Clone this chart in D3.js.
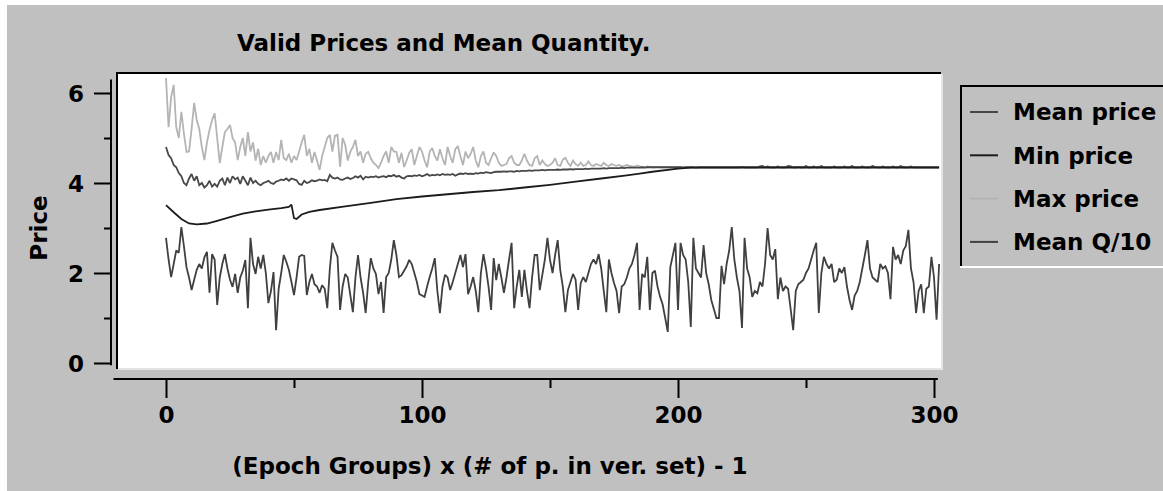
<!DOCTYPE html>
<html>
<head>
<meta charset="utf-8">
<script src="https://cdn.jsdelivr.net/npm/d3@7"></script>
<style>
  body { margin: 0; background: #fff; }
  text { font-family: "DejaVu Sans", "Liberation Sans", Arial, sans-serif; font-weight: bold; fill: #000; }
</style>
</head>
<body>
<div id="chart"></div>
<script>
// values, one per epoch group (x = index)
const meanQ = [
  2.78, 2.3, 1.91, 2.2, 2.5, 2.45, 3.02, 2.6, 2.13, 1.9,
  1.62, 1.85, 2.07, 2.2, 2.1, 2.35, 2.47, 1.56, 2.42, 2.3,
  1.29, 1.9, 2.2, 2.42, 2.1, 1.85, 1.69, 1.98, 1.56, 1.9,
  2.05, 2.29, 1.22, 2.78, 2.2, 1.98, 2.36, 2.1, 2.4, 2.0,
  1.33, 1.6, 2.02, 0.73, 1.64, 2.0, 2.4, 2.25, 2.07, 1.8,
  1.51, 1.9, 2.36, 2.4, 2.38, 1.51, 1.8, 1.98, 1.75, 1.7,
  1.56, 1.73, 1.65, 1.22, 2.1, 2.67, 2.5, 2.36, 1.18, 1.7,
  1.98, 1.9, 1.51, 1.13, 1.9, 2.4, 1.9, 1.56, 1.11, 1.8,
  2.33, 2.1, 1.98, 1.53, 1.8, 1.11, 1.91, 2.0, 2.3, 2.73,
  2.4, 1.91, 1.95, 2.05, 2.15, 2.29, 2.2, 2.0, 1.8, 1.53,
  1.5, 1.47, 1.7, 1.91, 2.1, 2.33, 1.6, 1.11, 1.7, 1.96,
  1.9, 1.62, 1.8, 2.0, 2.2, 2.4, 2.13, 2.42, 1.53, 1.7,
  1.91, 1.6, 1.13, 2.0, 2.42, 2.1, 1.69, 1.18, 2.33, 1.84,
  2.2, 1.9, 1.56, 1.9, 2.3, 2.67, 1.22, 1.7, 2.07, 1.47,
  2.07, 1.6, 1.22, 1.9, 2.4, 2.4, 1.62, 1.96, 2.3, 2.78,
  2.29, 2.0, 2.4, 2.73, 2.07, 1.7, 1.13, 1.62, 1.8, 1.98,
  1.85, 1.18, 1.78, 1.91, 1.8, 2.0, 2.2, 2.3, 2.2, 2.42,
  2.1, 1.6, 1.13, 2.3, 2.0, 1.78, 1.6, 1.11, 1.7, 1.75,
  1.9, 2.1, 2.2, 2.4, 2.67, 1.18, 1.98, 1.9, 2.36, 1.18,
  2.0, 2.05, 1.7, 1.47, 1.3, 1.0, 0.69, 2.13, 2.4, 2.67,
  1.18, 2.67, 2.4, 2.3, 1.8, 0.8, 2.78, 2.1, 2.0, 1.9,
  2.62, 2.0, 1.75, 1.4, 1.2, 1.0, 1.0, 2.16, 1.75, 2.2,
  2.5, 3.02, 2.3, 1.9, 1.6, 0.78, 2.78, 2.1, 1.9, 1.47,
  1.6, 1.55, 1.8, 1.7, 2.2, 3.0, 2.4, 2.3, 2.53, 1.42,
  1.9, 1.6, 1.7, 1.65, 1.2, 0.73, 1.6, 1.75, 1.8, 1.85,
  2.0, 2.1, 2.3, 2.5, 2.67, 1.11, 2.0, 2.36, 2.2, 2.1,
  2.2, 1.8, 1.85, 2.1, 2.0, 2.13, 1.7, 1.4, 1.18, 1.5,
  1.6, 1.8, 2.1, 2.4, 2.73, 2.1, 1.9, 1.85, 1.8, 2.2,
  2.1, 2.15, 2.0, 1.42, 2.58, 2.3, 2.4, 2.2, 2.5, 2.6,
  2.96, 2.1, 1.8, 1.11, 1.6, 1.75, 1.11, 1.65, 1.7, 2.36,
  1.9, 0.96, 2.2
];

const maxPrice = [
  6.33, 5.24, 5.9, 6.18, 5.24, 5.0, 5.58, 5.1, 4.69, 4.7,
  5.2, 5.78, 5.4, 5.2, 4.8, 4.51, 4.9, 5.18, 5.4, 5.55,
  5.0, 4.44, 4.8, 5.13, 5.2, 5.29, 5.0, 4.9, 4.51, 4.8,
  5.0, 4.6, 5.13, 4.7, 4.9, 4.5, 4.76, 4.40, 4.6, 4.45,
  4.6, 4.69, 4.45, 4.69, 4.51, 4.96, 4.55, 4.51, 4.65, 4.45,
  4.6, 4.51, 4.7, 4.9, 5.07, 4.6, 4.76, 4.45, 4.69, 4.5,
  4.29, 4.6, 4.8, 5.0, 5.07, 4.7, 5.05, 5.07, 4.36, 5.0,
  4.85, 4.5, 4.69, 4.8, 4.96, 4.6, 4.7, 4.45, 4.65, 4.69,
  4.55, 4.45, 4.4, 4.33, 4.45, 4.6, 4.7, 4.45, 4.8, 4.7,
  4.69, 4.45, 4.67, 4.36, 4.5, 4.67, 4.75, 4.4, 4.6, 4.8,
  4.7, 4.5, 4.35, 4.7, 4.78, 4.6, 4.5, 4.75, 4.55, 4.4,
  4.8, 4.6, 4.45, 4.75, 4.82, 4.6, 4.4, 4.7, 4.55, 4.65,
  4.8, 4.5, 4.35, 4.6, 4.7, 4.45, 4.4, 4.55, 4.68, 4.6,
  4.45, 4.38, 4.4, 4.42, 4.55, 4.6, 4.45, 4.4, 4.4, 4.5,
  4.65, 4.5, 4.4, 4.38, 4.55, 4.6, 4.4, 4.5, 4.42, 4.38,
  4.4, 4.45, 4.55, 4.4, 4.38, 4.52, 4.56, 4.45, 4.38, 4.5,
  4.42, 4.38, 4.45, 4.38, 4.4, 4.48, 4.4, 4.38, 4.42, 4.4,
  4.38, 4.45, 4.4, 4.38, 4.42, 4.4, 4.38, 4.4, 4.37, 4.38,
  4.4, 4.38, 4.37, 4.36, 4.39, 4.37, 4.36, 4.35, 4.37, 4.36,
  4.35, 4.35, 4.36, 4.35, 4.35, 4.35, 4.35, 4.35, 4.35, 4.35,
  4.35, 4.35, 4.35, 4.35, 4.35, 4.35, 4.35, 4.35, 4.35, 4.35,
  4.35, 4.35, 4.35, 4.35, 4.35, 4.35, 4.35, 4.35, 4.35, 4.35,
  4.35, 4.35, 4.35, 4.35, 4.35, 4.35, 4.35, 4.35, 4.35, 4.35,
  4.35, 4.35, 4.35, 4.35, 4.35, 4.35, 4.35, 4.35, 4.35, 4.35,
  4.35, 4.35, 4.35, 4.35, 4.35, 4.35, 4.35, 4.35, 4.35, 4.35,
  4.35, 4.35, 4.35, 4.35, 4.35, 4.35, 4.35, 4.35, 4.35, 4.35,
  4.35, 4.35, 4.35, 4.35, 4.35, 4.35, 4.35, 4.35, 4.35, 4.35,
  4.35, 4.35, 4.35, 4.35, 4.35, 4.35, 4.35, 4.35, 4.35, 4.35,
  4.35, 4.35, 4.35, 4.35, 4.35, 4.35, 4.35, 4.35, 4.35, 4.35,
  4.35, 4.35, 4.35, 4.35, 4.35, 4.35, 4.35, 4.35, 4.35, 4.35,
  4.35, 4.35, 4.35
];

const meanPrice = [
  4.8, 4.62, 4.55, 4.4, 4.35, 4.22, 4.15, 4.0, 3.95, 4.1,
  4.2, 4.05, 4.15, 3.95, 4.0, 3.9, 3.95, 4.05, 3.92, 3.98,
  3.92, 4.05, 4.1, 3.95, 4.12, 4.0, 4.15, 4.08, 4.12, 3.98,
  4.15, 4.05, 3.95, 4.12, 4.0, 4.05, 3.98, 3.95, 4.0, 4.02,
  4.05, 4.0, 3.98, 4.03, 4.05, 4.08, 4.06, 4.1, 4.05, 4.1,
  4.08, 4.06, 3.98, 3.96, 4.05, 4.0, 4.02, 4.06, 4.04, 4.05,
  4.08, 4.06, 4.07, 4.04, 4.18, 4.12, 4.1, 4.12, 4.08, 4.07,
  4.1, 4.12, 4.09, 4.11, 4.15, 4.12, 4.16, 4.08, 4.14, 4.12,
  4.14, 4.13, 4.15, 4.12, 4.14, 4.15, 4.13, 4.16, 4.15, 4.18,
  4.14, 4.16, 4.12, 4.1, 4.15, 4.16, 4.15, 4.17, 4.16, 4.18,
  4.15, 4.17, 4.2, 4.16, 4.18, 4.17, 4.19, 4.17, 4.2, 4.18,
  4.19, 4.18, 4.2, 4.16, 4.19, 4.21, 4.2, 4.22, 4.2, 4.21,
  4.2, 4.22, 4.21, 4.23, 4.22, 4.24, 4.23, 4.22, 4.24, 4.25,
  4.25, 4.25, 4.26, 4.25, 4.26, 4.26, 4.25, 4.27, 4.26, 4.27,
  4.27, 4.27, 4.28, 4.27, 4.28, 4.28, 4.28, 4.29, 4.28, 4.29,
  4.29, 4.29, 4.29, 4.30, 4.29, 4.30, 4.30, 4.30, 4.31, 4.30,
  4.31, 4.31, 4.31, 4.31, 4.32, 4.31, 4.32, 4.32, 4.32, 4.32,
  4.32, 4.33, 4.32, 4.33, 4.33, 4.33, 4.33, 4.33, 4.34, 4.33,
  4.34, 4.34, 4.34, 4.34, 4.34, 4.34, 4.35, 4.34, 4.35, 4.35,
  4.35, 4.35, 4.35, 4.35, 4.35, 4.35, 4.35, 4.35, 4.35, 4.35,
  4.35, 4.35, 4.34, 4.35, 4.35, 4.35, 4.35, 4.34, 4.35, 4.35,
  4.35, 4.35, 4.35, 4.35, 4.35, 4.35, 4.35, 4.35, 4.35, 4.35,
  4.35, 4.35, 4.35, 4.35, 4.35, 4.36, 4.35, 4.35, 4.35, 4.35,
  4.35, 4.35, 4.37, 4.38, 4.35, 4.37, 4.35, 4.35, 4.35, 4.37,
  4.35, 4.35, 4.35, 4.38, 4.37, 4.35, 4.35, 4.36, 4.35, 4.35,
  4.38, 4.35, 4.35, 4.37, 4.35, 4.35, 4.38, 4.35, 4.35, 4.35,
  4.35, 4.37, 4.35, 4.35, 4.35, 4.37, 4.35, 4.35, 4.38, 4.35,
  4.35, 4.35, 4.37, 4.35, 4.35, 4.35, 4.38, 4.36, 4.35, 4.35,
  4.37, 4.35, 4.35, 4.35, 4.37, 4.35, 4.35, 4.38, 4.35, 4.35,
  4.35, 4.37, 4.35, 4.35, 4.35, 4.35, 4.35, 4.35, 4.35, 4.35,
  4.35, 4.35, 4.35
];

// min price is smooth, so it is kept at fewer epochs
const minEpochs = [0, 3, 6, 9, 12, 16, 20, 25, 30, 35, 40, 45, 48, 49, 50, 51, 53, 56, 60, 70, 80, 90, 100,
  110, 120, 130, 140, 150, 160, 170, 180, 185, 190, 200, 205, 302];
const minPrice = [3.51, 3.35, 3.2, 3.1, 3.08, 3.1, 3.16, 3.24, 3.32, 3.37, 3.41, 3.44, 3.47, 3.52, 3.22, 3.2, 3.3, 3.36, 3.4, 3.48, 3.56, 3.64, 3.7,
  3.75, 3.8, 3.84, 3.9, 3.96, 4.03, 4.1, 4.17, 4.21, 4.25, 4.32, 4.34, 4.34];

const xMajor = [0, 100, 200, 300];
const xMinor = [50, 150, 250];
const yMajor = [0, 2, 4, 6];
const yMinor = [1, 3, 5];

const legendNames = ['Mean price', 'Min price', 'Max price', 'Mean Q/10'];
const legendColors = ['#484848', '#1c1c1c', '#b4b4b4', '#404040'];

const width = 1163, height = 491;

const svg = d3.select('#chart').append('svg')
  .attr('width', width)
  .attr('height', height);

// window panel
svg.append('rect').attr('x', 7).attr('y', 5).attr('width', width - 7).attr('height', height - 5).attr('fill', '#c0c0c0');

const x = d3.scaleLinear().domain([0, 300]).range([166, 934]);
const y = d3.scaleLinear().domain([0, 6]).range([363, 93]);

// plot box
const box = { x0: 118, x1: 941, y0: 74, y1: 368 };
svg.append('rect').attr('x', box.x0).attr('y', box.y0)
  .attr('width', box.x1 - box.x0).attr('height', box.y1 - box.y0).attr('fill', '#fff');
svg.append('line').attr('x1', box.x1 + 1).attr('x2', box.x1 + 1).attr('y1', box.y0).attr('y2', box.y1 + 2)
  .attr('stroke', '#e4e4e4').attr('stroke-width', 2);
svg.append('line').attr('x1', box.x0).attr('x2', box.x1 + 2).attr('y1', box.y1 + 1).attr('y2', box.y1 + 1)
  .attr('stroke', '#e4e4e4').attr('stroke-width', 2);
svg.append('line').attr('x1', box.x0 - 1).attr('x2', box.x1).attr('y1', box.y0 - 1).attr('y2', box.y0 - 1)
  .attr('stroke', '#000').attr('stroke-width', 2);
svg.append('line').attr('x1', box.x0 - 1).attr('x2', box.x0 - 1).attr('y1', box.y0 - 2).attr('y2', box.y1 + 1)
  .attr('stroke', '#000').attr('stroke-width', 2);

svg.append('clipPath').attr('id', 'clip').append('rect')
  .attr('x', box.x0).attr('y', box.y0).attr('width', box.x1 - box.x0).attr('height', box.y1 - box.y0);

const plot = svg.append('g').attr('clip-path', 'url(#clip)');

const lineIdx = d3.line().x((d, i) => x(i)).y(d => y(d));
const lineMin = d3.line().x((d, i) => x(minEpochs[i])).y(d => y(d));

const series = [
  { vals: maxPrice, gen: lineIdx, color: legendColors[2] },
  { vals: meanPrice, gen: lineIdx, color: legendColors[0] },
  { vals: minPrice, gen: lineMin, color: legendColors[1] },
  { vals: meanQ, gen: lineIdx, color: legendColors[3] }
];

plot.selectAll('path.series')
  .data(series)
  .enter()
  .append('path')
  .attr('class', 'series')
  .attr('d', d => d.gen(d.vals))
  .attr('fill', 'none')
  .attr('stroke', d => d.color)
  .attr('stroke-width', 1.8)
  .attr('stroke-linejoin', 'miter')
  .attr('stroke-miterlimit', 2);

// y axis
const yAxisX = 111;
const gy = svg.append('g').attr('transform', `translate(${yAxisX},0)`);
gy.call(d3.axisLeft(y).tickValues(yMajor).tickSize(17).tickPadding(10).tickFormat(d3.format('d')));
gy.append('g').call(d3.axisLeft(y).tickValues(yMinor).tickSize(7).tickFormat(''));
gy.selectAll('.domain').remove();
gy.append('line').attr('x1', 0).attr('x2', 0).attr('y1', y(6.3)).attr('y2', y(-0.05))
  .attr('stroke', '#000').attr('stroke-width', 2);
gy.selectAll('.tick line').attr('stroke', '#000').attr('stroke-width', 2);
gy.selectAll('.tick text').style('font-size', '23px').attr('dy', '0.36em');

// x axis
const xAxisY = 379;
const gx = svg.append('g').attr('transform', `translate(0,${xAxisY})`);
gx.call(d3.axisBottom(x).tickValues(xMajor).tickSize(19).tickPadding(9).tickFormat(d3.format('d')));
gx.append('g').call(d3.axisBottom(x).tickValues(xMinor).tickSize(9).tickFormat(''));
gx.selectAll('.domain').remove();
gx.append('line').attr('x1', x(-20.5)).attr('x2', x(301.5)).attr('y1', 0).attr('y2', 0)
  .attr('stroke', '#000').attr('stroke-width', 2);
gx.selectAll('.tick line').attr('stroke', '#000').attr('stroke-width', 2);
gx.selectAll('.tick text').style('font-size', '23px');

// titles
svg.append('text').attr('x', 237).attr('y', 51).style('font-size', '23px')
  .text('Valid Prices and Mean Quantity.');
svg.append('text').attr('x', 490).attr('y', 474).attr('text-anchor', 'middle').style('font-size', '23px')
  .text('(Epoch Groups) x (# of p. in ver. set) - 1');
svg.append('text').attr('transform', 'translate(47,228) rotate(-90)').attr('text-anchor', 'middle')
  .style('font-size', '23px').text('Price');

// legend
const lg = svg.append('g');
lg.append('line').attr('x1', 961).attr('x2', 1163).attr('y1', 86).attr('y2', 86).attr('stroke', '#000').attr('stroke-width', 2);
lg.append('line').attr('x1', 961).attr('x2', 961).attr('y1', 85).attr('y2', 267).attr('stroke', '#000').attr('stroke-width', 2);
lg.append('line').attr('x1', 960).attr('x2', 1163).attr('y1', 267).attr('y2', 267).attr('stroke', '#fff').attr('stroke-width', 2);

const rows = lg.selectAll('g.row')
  .data(legendNames)
  .enter()
  .append('g')
  .attr('class', 'row')
  .attr('transform', (d, i) => `translate(0,${112 + i * 43.3})`);
rows.append('line').attr('x1', 970).attr('x2', 998).attr('y1', 0).attr('y2', 0)
  .attr('stroke', (d, i) => legendColors[i]).attr('stroke-width', 2);
rows.append('text').attr('x', 1013).attr('dy', '0.36em').style('font-size', '23px').text(d => d);
</script>
</body>
</html>
